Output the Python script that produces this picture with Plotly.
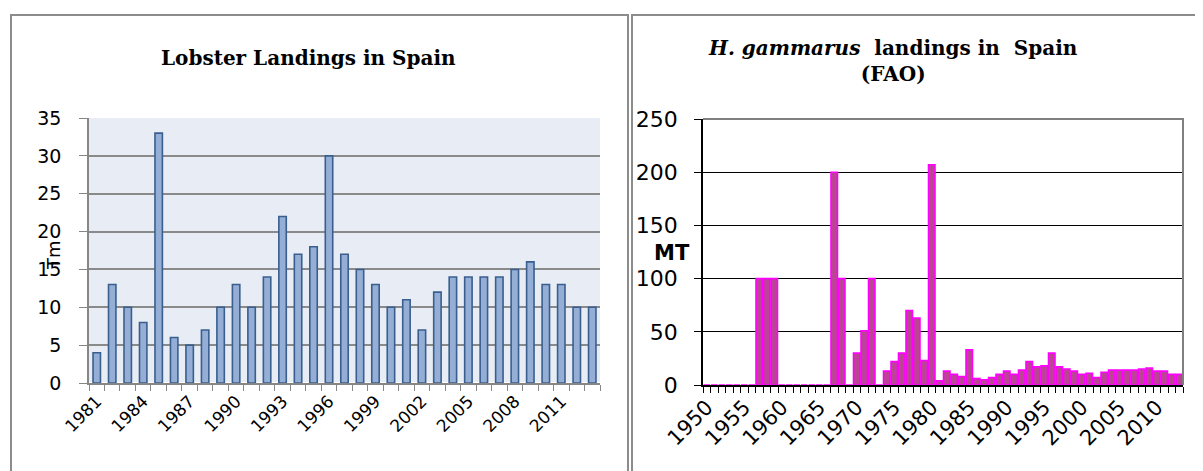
import plotly.graph_objects as go

# Lobster landings in Spain (Tm), 1981-2013
years_es = list(range(1981, 2014))
landings_es = [4, 13, 10, 8, 33, 6, 5, 7, 10, 13, 10, 14, 22, 17, 18, 30, 17,
               15, 13, 10, 11, 7, 12, 14, 14, 14, 14, 15, 16, 13, 13, 10, 10]

# H. gammarus landings in Spain (FAO, MT), 1950-2013
years_fao = list(range(1950, 2014))
landings_fao = [0, 0, 0, 0, 0, 0, 0, 100, 100, 100,
                0, 0, 0, 0, 0, 0, 0, 200, 100, 0,
                30, 51, 100, 0, 13, 22, 30, 70, 63, 23,
                207] + landings_es

# page body has an 8px margin, so the figure is a bit smaller than the window
OFF = 8
W, H = 1203 - OFF, 471 - OFF


def px_x(v):
    return (v - OFF) / W


def px_y(v):
    return 1 - (v - OFF) / H


fig = go.Figure()

fig.add_trace(go.Bar(x=years_es, y=landings_es, xaxis="x", yaxis="y", width=0.48,
                     marker=dict(color="#94AED6", line=dict(color="#3A5F8E", width=1.6)),
                     showlegend=False))

fig.add_trace(go.Bar(x=years_fao, y=landings_fao, xaxis="x2", yaxis="y2", width=0.86,
                     marker=dict(color="#BA4592", line=dict(color="#FF00FF", width=1.6)),
                     showlegend=False))

sans = "DejaVu Sans"
serif = "DejaVu Serif"

fig.update_layout(
    width=W, height=H,
    margin=dict(l=0, r=0, t=0, b=0, autoexpand=False),
    paper_bgcolor="white",
    plot_bgcolor="white",
    xaxis=dict(domain=[px_x(89), px_x(600)], range=[1980.5, 2013.5],
               tickmode="array", tickvals=list(range(1981, 2013, 3)),
               tickangle=-45, ticks="", showgrid=False, automargin=False,
               showline=True, linecolor="#868686", linewidth=1.5,
               tickfont=dict(family=sans, size=17, color="black"),
               minor=dict(tick0=0.5, dtick=1, ticks="outside", ticklen=6,
                          tickcolor="#868686", showgrid=False),
               anchor="y", fixedrange=True),
    yaxis=dict(domain=[px_y(383), px_y(118)], range=[0, 35], dtick=5,
               showgrid=True, gridcolor="#8A8A8A", gridwidth=1.5, automargin=False,
               showline=True, linecolor="#868686", linewidth=1.5,
               ticks="outside", ticklen=8, tickcolor="#868686",
               ticklabelstandoff=14,
               tickfont=dict(family=sans, size=19, color="black"),
               anchor="x", fixedrange=True),
    xaxis2=dict(domain=[px_x(703), px_x(1183)], range=[1949.5, 2013.5],
                tickmode="array", tickvals=list(range(1950, 2014, 5)),
                tickangle=-45, ticks="", showgrid=False, automargin=False,
                showline=True, linecolor="black", linewidth=1.5,
                tickfont=dict(family=sans, size=21, color="black"),
                minor=dict(tick0=0.5, dtick=1, ticks="outside", ticklen=6,
                           tickcolor="black", showgrid=False),
                anchor="y2", fixedrange=True),
    yaxis2=dict(domain=[px_y(385), px_y(119)], range=[0, 250], dtick=50,
                showgrid=True, gridcolor="black", gridwidth=1, automargin=False,
                showline=True, linecolor="black", linewidth=1.5,
                ticks="outside", ticklen=7, tickcolor="black",
                ticklabelstandoff=12,
                tickfont=dict(family=sans, size=22, color="black"),
                anchor="x2", fixedrange=True),
)

# plot background for the left chart, frame lines of both panels
fig.add_shape(type="rect", xref="paper", yref="paper", layer="below",
              x0=px_x(89), x1=px_x(600), y0=px_y(383), y1=px_y(118),
              fillcolor="#E8EDF5", line=dict(width=0))
fig.add_shape(type="path", xref="paper", yref="paper",
              path=f"M {px_x(703)} {px_y(119)} L {px_x(1183)} {px_y(119)} L {px_x(1183)} {px_y(385)}",
              line=dict(color="#808080", width=2))
fig.add_shape(type="path", xref="paper", yref="paper",
              path=f"M {px_x(11)} {px_y(480)} L {px_x(11)} {px_y(15)} L {px_x(628)} {px_y(15)} L {px_x(628)} {px_y(480)}",
              line=dict(color="#8C8C8C", width=2))
fig.add_shape(type="path", xref="paper", yref="paper",
              path=f"M {px_x(632)} {px_y(480)} L {px_x(632)} {px_y(15)} L {px_x(1215)} {px_y(15)}",
              line=dict(color="#8C8C8C", width=2))

fig.add_annotation(x=px_x(308), y=px_y(58), xref="paper", yref="paper",
                   xanchor="center", yanchor="middle",
                   text="<b>Lobster Landings in Spain</b>", showarrow=False,
                   font=dict(family=serif, size=20, color="black"))
fig.add_annotation(x=px_x(53), y=px_y(255), xref="paper", yref="paper",
                   xanchor="center", yanchor="middle",
                   text="Tm", textangle=-90, showarrow=False,
                   font=dict(family=sans, size=18, color="black"))
fig.add_annotation(x=px_x(893), y=px_y(61), xref="paper", yref="paper",
                   xanchor="center", yanchor="middle",
                   text="<b><i>H. gammarus</i>  landings in  Spain</b><br><b>(FAO)</b>",
                   showarrow=False,
                   font=dict(family=serif, size=20, color="black"))
fig.add_annotation(x=px_x(672), y=px_y(253), xref="paper", yref="paper",
                   xanchor="center", yanchor="middle",
                   text="<b>MT</b>", showarrow=False,
                   font=dict(family=sans, size=21, color="black"))

fig.write_html("out.html")
